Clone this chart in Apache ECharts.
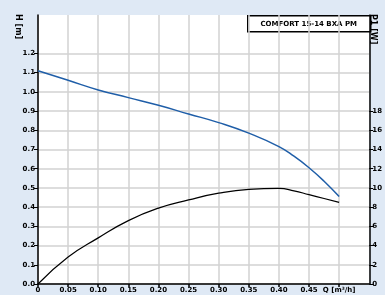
<!DOCTYPE html>
<html>
<head>
<meta charset="utf-8">
<script src="https://cdn.jsdelivr.net/npm/echarts@6/dist/echarts.min.js"></script>
<style>
html, body { margin: 0; padding: 0; background: #dfe9f5; }
#chart { width: 385px; height: 295px; }
</style>
</head>
<body>
<div id="chart"></div>
<script>
// flow Q [m3/h]
var flow = [0, 0.05, 0.10, 0.15, 0.20, 0.25, 0.30, 0.35, 0.40, 0.425, 0.45, 0.475, 0.50];
// head H [m]
var head = [1.11, 1.06, 1.01, 0.97, 0.93, 0.885, 0.84, 0.785, 0.715, 0.665, 0.605, 0.535, 0.455];
// power P1 [W]
var power = [0, 2.8, 4.8, 6.6, 7.9, 8.75, 9.45, 9.85, 9.95, 9.7, 9.3, 8.9, 8.5];

var xTicks = [0, 0.05, 0.10, 0.15, 0.20, 0.25, 0.30, 0.35, 0.40, 0.45, 0.50];
var hTicks = [0, 0.1, 0.2, 0.3, 0.4, 0.5, 0.6, 0.7, 0.8, 0.9, 1.0, 1.1, 1.2];
var pTicks = [0, 2, 4, 6, 8, 10, 12, 14, 16, 18];
var title = 'COMFORT 15-14 BXA PM';

var chart = echarts.init(document.getElementById('chart'));

var lbl = { color: '#000', fontSize: 7, fontWeight: 'bold', fontFamily: 'DejaVu Sans' };

chart.setOption({
    backgroundColor: '#dfe9f5',
    animation: false,
    grid: { left: 38, right: 13, top: 15, bottom: 11, show: true, backgroundColor: '#fff', borderWidth: 0 },
    graphic: [
        {
            type: 'text', x: 22, y: 14, rotation: -Math.PI / 2,
            style: { text: 'H [m]', fill: '#000', font: 'bold 8px DejaVu Sans' }
        },
        {
            type: 'text', x: 377, y: 14, rotation: -Math.PI / 2,
            style: { text: 'P1 [W]', fill: '#000', font: 'bold 8px DejaVu Sans' }
        },
        {
            type: 'group', left: 247, top: 15,
            children: [
                { type: 'rect', shape: { x: 0, y: 0, width: 123, height: 16 },
                  style: { fill: '#fff', stroke: '#000', lineWidth: 1.5 } },
                { type: 'text', x: 61, y: 8,
                  style: { text: title, fill: '#000', font: 'bold 7px DejaVu Sans', align: 'center', verticalAlign: 'middle' } }
            ]
        }
    ],
    xAxis: {
        type: 'value', min: 0, max: 0.55, interval: 0.05,
        axisLine: { lineStyle: { color: '#000', width: 1.5 } },
        axisTick: { length: 3, lineStyle: { color: '#000', width: 1.5 }, customValues: xTicks },
        splitLine: { show: true, lineStyle: { color: '#d2d2d2', width: 1.5 } },
        axisLabel: Object.assign({}, lbl, {
            margin: 3,
            customValues: xTicks,
            formatter: function (v) {
                if (v === 0) return '0';
                if (Math.abs(v - 0.5) < 1e-6) return 'Q [m³/h]';
                return v.toFixed(2);
            }
        })
    },
    yAxis: [
        {
            type: 'value', min: 0, max: 1.4, interval: 0.1,
            axisLine: { show: true, lineStyle: { color: '#000', width: 1.5 } },
            axisTick: { show: true, length: 4, lineStyle: { color: '#000', width: 1 }, customValues: hTicks },
            splitLine: { show: true, lineStyle: { color: '#d2d2d2', width: 1.5 } },
            axisLabel: Object.assign({}, lbl, {
                margin: 3,
                customValues: hTicks,
                formatter: function (v) { return v.toFixed(1); }
            })
        },
        {
            type: 'value', min: 0, max: 28, interval: 2, position: 'right',
            axisLine: { show: true, lineStyle: { color: '#000', width: 1.5 } },
            axisTick: { show: true, length: 4, lineStyle: { color: '#000', width: 1 }, customValues: pTicks },
            splitLine: { show: false },
            axisLabel: Object.assign({}, lbl, { margin: 3, customValues: pTicks })
        }
    ],
    series: [
        {
            name: 'H', type: 'line', yAxisIndex: 0, smooth: true, symbol: 'none',
            lineStyle: { color: '#1f5ea8', width: 1.5 },
            data: flow.map(function (q, i) { return [q, head[i]]; })
        },
        {
            name: 'P1', type: 'line', yAxisIndex: 1, smooth: true, symbol: 'none',
            lineStyle: { color: '#000', width: 1.2 },
            data: flow.map(function (q, i) { return [q, power[i]]; })
        }
    ]
});
</script>
</body>
</html>
